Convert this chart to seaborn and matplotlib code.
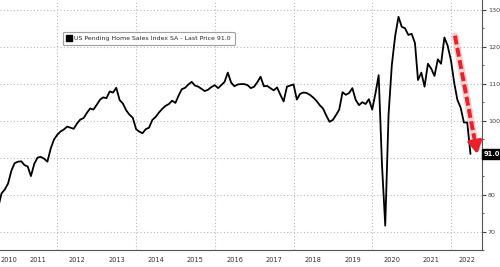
import numpy as np
import pandas as pd
import matplotlib
matplotlib.use("Agg")
import matplotlib.pyplot as plt
import matplotlib.dates as mdates
from matplotlib.lines import Line2D
import seaborn as sns

# ---- data (monthly, Jun 2010 .. Jun 2022) ----
start_month = "2010-06-30"
values = [
    76.5,                                                     # 2010 Jun
    80.3, 81.4, 83.0, 86.5, 88.5, 88.9,                       # 2010 Jul-Dec
    89.0, 88.0, 87.6, 85.0, 88.3, 90.0, 90.2, 89.7, 88.9, 92.5, 94.9, 96.2,   # 2011
    97.1, 97.6, 98.4, 98.1, 97.8, 99.2, 100.3, 100.7, 102.1, 103.3, 103.0, 104.3,  # 2012
    105.7, 106.3, 106.1, 107.9, 107.6, 108.9, 105.6, 104.6, 102.8, 101.6, 100.8, 97.7,  # 2013
    97.0, 96.6, 97.7, 98.1, 100.2, 101.0, 102.2, 103.2, 104.0, 104.5, 105.4, 104.8,  # 2014
    106.9, 108.5, 108.9, 109.8, 110.5, 109.5, 109.2, 108.6, 108.0, 108.4, 109.1, 109.6,  # 2015
    108.8, 109.6, 110.5, 113.0, 110.3, 109.3, 109.8, 109.9, 109.9, 109.6, 108.8, 109.2,  # 2016
    110.5, 111.9, 109.3, 109.4, 108.8, 108.2, 109.0, 107.0, 105.2, 109.2, 109.5, 109.8,  # 2017
    105.7, 107.2, 107.6, 107.5, 107.0, 106.3, 105.4, 104.2, 103.3, 101.4, 99.7, 100.2,   # 2018
    101.6, 103.0, 107.7, 107.0, 107.5, 108.8, 105.6, 104.2, 105.0, 104.5, 105.8, 103.0,  # 2019
    107.5, 112.3, 88.0, 71.6, 101.7, 115.0, 122.9, 128.1, 125.4, 125.0, 123.2, 123.5,   # 2020
    121.0, 111.0, 113.0, 109.2, 115.4, 114.1, 112.1, 116.6, 115.4, 122.5, 120.3, 116.3,  # 2021
    110.1, 105.7, 103.5, 99.5, 99.5, 91.0,                    # 2022 Jan-Jun
]
series_name = "US Pending Home Sales Index SA - Last Price 91.0"
last_label = "91.0"
y_ticks = [70, 80, 90, 100, 110, 120, 130]
year_labels = list(range(2010, 2023))
arrow_from = ("2022-02-06", 123.0)
arrow_to = ("2022-09-01", 91.0)

dates = pd.date_range(start_month, periods=len(values), freq="ME")
df = pd.DataFrame({"date": dates, "value": values})

sns.set_theme(style="white")
plt.rcParams["font.family"] = ["DejaVu Sans"]

fig = plt.figure(figsize=(5.0, 2.67), dpi=100)
ax = fig.add_axes([0.0, 17 / 267, 482 / 500, 250 / 267])

sns.lineplot(data=df, x="date", y="value", ax=ax, color="black", lw=1.3)

xlo, xhi = pd.Timestamp("2010-07-17"), pd.Timestamp("2022-10-15")
ax.set_xlim(xlo, xhi)
ax.set_ylim(66.3, 132.65)
ax.set_xlabel("")
ax.set_ylabel("")

# grid
grid_col = "#b8b8b8"
for yv in y_ticks:
    ax.axhline(yv, color=grid_col, lw=0.8, ls=(0, (1, 2)), zorder=0)
for yr in range(2012, 2023, 2):
    ax.axvline(pd.Timestamp(f"{yr}-01-01"), color=grid_col, lw=0.8, ls=(0, (1, 2)), zorder=0)

# spines
for s in ["top", "left"]:
    ax.spines[s].set_visible(False)
for s in ["right", "bottom"]:
    ax.spines[s].set_color("#555555")
    ax.spines[s].set_linewidth(0.8)

# y axis on right
ax.yaxis.tick_right()
ax.set_yticks(y_ticks)
ax.set_yticks(np.arange(65, 135, 5), minor=True)
ax.tick_params(axis="y", which="major", length=3, width=0.8, color="#444444",
               labelsize=4.6, labelcolor="#444444", pad=1.2, direction="out")
ax.tick_params(axis="y", which="minor", length=1.5, width=0.6, color="#444444")

# x axis: separators at year starts, labels centred in visible part of each year
ax.xaxis.set_major_locator(mdates.YearLocator(1))
ax.xaxis.set_major_formatter(plt.NullFormatter())
ax.tick_params(axis="x", which="major", length=12.5, width=0.6, color="#777777", direction="out")
lo_n, hi_n = mdates.date2num(xlo), mdates.date2num(xhi)
lab_pos, lab_txt = [], []
for yr in year_labels:
    a = max(mdates.date2num(pd.Timestamp(f"{yr}-01-01")), lo_n)
    b = min(mdates.date2num(pd.Timestamp(f"{yr + 1}-01-01")), hi_n)
    lab_pos.append((a + b) / 2)
    lab_txt.append(str(yr))
ax.set_xticks(lab_pos, minor=True)
ax.set_xticklabels(lab_txt, minor=True)
ax.tick_params(axis="x", which="minor", length=0, labelsize=4.8, labelcolor="#333333", pad=5)

# legend
handle = Line2D([], [], marker="s", color="black", ls="none", markersize=4)
leg = ax.legend([handle], [series_name], loc="upper left",
                bbox_to_anchor=(63 / 482, 1 - 32 / 250), fontsize=4.5,
                frameon=True, fancybox=True, borderpad=0.6, handlelength=0.8,
                handletextpad=0.4, borderaxespad=0)
leg.get_frame().set_edgecolor("#888888")
leg.get_frame().set_linewidth(0.8)

# last value label
ax.annotate(last_label, xy=(1.0, values[-1]), xycoords=("axes fraction", "data"),
            xytext=(1.0, 0), textcoords="offset points", ha="left", va="center",
            fontsize=4.8, color="white", fontweight="bold", zorder=10,
            bbox=dict(boxstyle="square,pad=0.25", fc="black", ec="black"),
            annotation_clip=False)

# red dashed arrow
red = "#e8212b"
x0 = mdates.date2num(pd.Timestamp(arrow_from[0]))
x1 = mdates.date2num(pd.Timestamp(arrow_to[0]))
y0, y1 = arrow_from[1], arrow_to[1]
fr = 0.86
xm, ym = x0 + (x1 - x0) * fr, y0 + (y1 - y0) * fr
ax.plot([x0, xm], [y0, ym], color="#f4a0a4", lw=5, alpha=0.5, solid_capstyle="round")
ax.plot([x0, xm], [y0, ym], color=red, lw=2.8, ls=(0, (2.3, 0.9)))
ax.annotate("", xy=(x1, y1), xytext=(xm - (x1 - x0) * 0.02, ym - (y1 - y0) * 0.02),
            arrowprops=dict(arrowstyle="-|>,head_length=0.6,head_width=0.35",
                            color=red, lw=2.5, shrinkA=0, shrinkB=0))

fig.savefig("out.png", dpi=100)
